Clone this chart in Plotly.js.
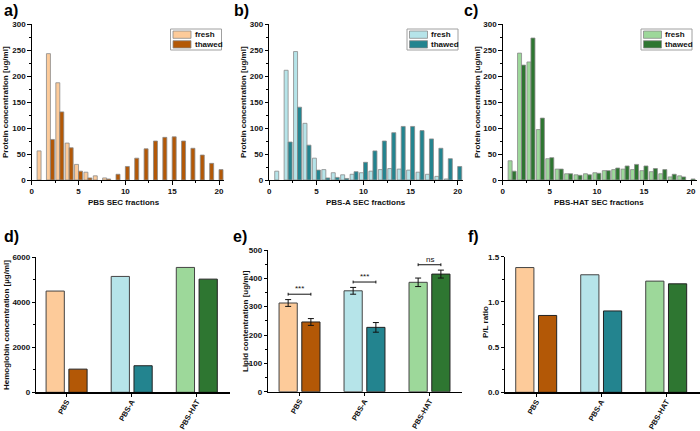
<!DOCTYPE html>
<html>
<head>
<meta charset="utf-8">
<script src="https://cdn.plot.ly/plotly-3.0.1.min.js"></script>
<style>
  html, body { margin: 0; padding: 0; background: #fff; }
  #chart { width: 700px; height: 431px; }
</style>
</head>
<body>
<div id="chart"></div>
<script>
// SEC fraction numbers
const fractions = [1, 2, 3, 4, 5, 6, 7, 8, 9, 10, 11, 12, 13, 14, 15, 16, 17, 18, 19, 20];

// Protein concentration per fraction [ug/ml]
const pbsFresh    = [56, 243, 187, 71, 30, 15, 8, 4, null, null, null, null, null, null, null, null, null, null, null, null];
const pbsThawed   = [null, 78, 131, 62, 17, 4, null, 2, 11, 26, 42, 60, 75, 82, 83, 75, 61, 48, 32, 20];
const pbsaFresh   = [17, 211, 247, 109, 42, 20, 14, 10, 11, 14, 17, 20, 22, 21, 19, 15, 11, 7, 2, null];
const pbsaThawed  = [null, 73, 140, 67, 19, 4, 5, 3, 16, 34, 56, 75, 91, 103, 103, 95, 79, 61, 41, 26];
const hatFresh    = [37, 244, 227, 97, 41, 21, 12, 10, 12, 14, 18, 20, 21, 20, 18, 16, 12, 6, 8, null];
const hatThawed   = [17, 221, 273, 119, 43, 21, 12, 9, 10, 13, 18, 23, 27, 30, 27, 22, 20, 11, 6, 2];

// Buffer groups for the summary panels
const groups = ['PBS', 'PBS-A', 'PBS-HAT'];
const hbFresh = [4500, 5150, 5550];
const hbThawed = [1030, 1180, 5030];
const lipidFresh = [313, 356, 386];
const lipidFreshErr = [12, 12, 15];
const lipidThawed = [246, 227, 415];
const lipidThawedErr = [12, 17, 14];
const plFresh = [1.38, 1.30, 1.23];
const plThawed = [0.85, 0.90, 1.20];
const sigLabels = ['***', '***', 'ns'];
const seriesNames = ['fresh', 'thawed'];

// Colours per buffer: [fresh, thawed]
const palette = {
  'PBS':     ['#FDCB9A', '#B35806'],
  'PBS-A':   ['#B6E4E9', '#23848F'],
  'PBS-HAT': ['#9DD89A', '#2E7631']
};
const freshColors = groups.map(g => palette[g][0]);
const thawedColors = groups.map(g => palette[g][1]);

const FONT = 'Arial, "Liberation Sans", sans-serif';
const tickFont = { family: FONT, size: 8, color: '#111', weight: 'bold' };
const catFont = { family: FONT, size: 7.5, color: '#111', weight: 'bold' };
const titleFont = { family: FONT, size: 8, color: '#111', weight: 'bold' };

const W = 700, H = 431;
const px = v => v / W;          // pixel -> paper x
const py = v => 1 - v / H;      // pixel -> paper y

const traces = [];

// ---- Top row: SEC fraction profiles ----
const secPanels = [
  { fresh: pbsFresh, thawed: pbsThawed, colors: palette['PBS'], xa: 'x', ya: 'y' },
  { fresh: pbsaFresh, thawed: pbsaThawed, colors: palette['PBS-A'], xa: 'x2', ya: 'y2' },
  { fresh: hatFresh, thawed: hatThawed, colors: palette['PBS-HAT'], xa: 'x3', ya: 'y3' }
];
secPanels.forEach(p => {
  traces.push({
    type: 'bar', name: seriesNames[0], x: fractions, y: p.fresh,
    xaxis: p.xa, yaxis: p.ya, offsetgroup: 'fresh',
    marker: { color: p.colors[0], line: { color: '#8a8a8a', width: 0.8 } }
  });
  traces.push({
    type: 'bar', name: seriesNames[1], x: fractions, y: p.thawed,
    xaxis: p.xa, yaxis: p.ya, offsetgroup: 'thawed',
    marker: { color: p.colors[1], line: { color: '#8a8a8a', width: 0.8 } }
  });
});

// ---- Bottom row: summary bars ----
const barW = 0.28;
function pair(fresh, thawed, xa, ya, errF, errT) {
  const f = {
    type: 'bar', name: seriesNames[0], x: groups, y: fresh, xaxis: xa, yaxis: ya,
    width: barW, offset: -barW - 0.035,
    marker: { color: freshColors, line: { color: '#444', width: 1 } }
  };
  const t = {
    type: 'bar', name: seriesNames[1], x: groups, y: thawed, xaxis: xa, yaxis: ya,
    width: barW, offset: 0.035,
    marker: { color: thawedColors, line: { color: '#222', width: 1 } }
  };
  if (errF) {
    f.error_y = { type: 'data', array: errF, color: '#111', thickness: 1, width: 3 };
    t.error_y = { type: 'data', array: errT, color: '#111', thickness: 1, width: 3 };
  }
  traces.push(f, t);
}
pair(hbFresh, hbThawed, 'x4', 'y4');
pair(lipidFresh, lipidThawed, 'x5', 'y5', lipidFreshErr, lipidThawedErr);
pair(plFresh, plThawed, 'x6', 'y6');

// ---- Axes ----
function secX(domain, range, anchor) {
  return {
    domain: domain, range: range, anchor: anchor,
    showgrid: false, zeroline: false, showline: true, linecolor: '#000', linewidth: 1,
    ticks: 'outside', ticklen: 3.5, tickwidth: 1, tickcolor: '#000', dtick: 5, tick0: 0,
    minor: { ticks: 'outside', ticklen: 2, dtick: 2.5, tickcolor: '#000', tickwidth: 1 },
    tickfont: tickFont
  };
}
function secY(domain, anchor) {
  return {
    domain: domain, range: [0, 300], anchor: anchor,
    showgrid: false, zeroline: false, showline: true, linecolor: '#000', linewidth: 1,
    ticks: 'outside', ticklen: 3.5, tickwidth: 1, tickcolor: '#000', dtick: 50,
    minor: { ticks: 'outside', ticklen: 2, dtick: 25, tickcolor: '#000', tickwidth: 1 },
    tickfont: tickFont
  };
}
function sumX(domain, range, anchor) {
  return {
    domain: domain, range: range, type: 'category', anchor: anchor,
    showgrid: false, zeroline: false, showline: true, linecolor: '#000', linewidth: 1.2,
    ticks: 'outside', ticklen: 3, tickwidth: 1, tickcolor: '#000',
    tickangle: -60, tickfont: catFont, ticklabelstandoff: -2
  };
}
function sumY(domain, range, dtick, minorDtick, fmt, anchor) {
  return {
    domain: domain, range: range, anchor: anchor,
    showgrid: false, zeroline: false, showline: true, linecolor: '#000', linewidth: 1.2,
    ticks: 'outside', ticklen: 3, tickwidth: 1, tickcolor: '#000', dtick: dtick, tick0: 0,
    tickformat: fmt,
    minor: { ticks: 'outside', ticklen: 1.5, dtick: minorDtick, tickcolor: '#000', tickwidth: 1 },
    tickfont: tickFont
  };
}

const topY = [py(180), py(24)];

const layout = {
  width: W, height: H,
  margin: { l: 0, r: 0, t: 0, b: 0 },
  paper_bgcolor: '#fff', plot_bgcolor: 'rgba(0,0,0,0)',
  font: { family: FONT, color: '#111' },
  barmode: 'group', bargap: 0.15, bargroupgap: 0,
  showlegend: false,

  xaxis:  secX([px(31.7), px(224)], [0, 20.53], 'y'),
  yaxis:  secY(topY, 'x'),
  xaxis2: secX([px(269.3), px(463)], [0, 20.56], 'y2'),
  yaxis2: secY(topY, 'x2'),
  xaxis3: secX([px(502.7), px(697)], [0, 20.63], 'y3'),
  yaxis3: secY(topY, 'x3'),

  xaxis4: sumX([px(36), px(230)], [-0.47, 2.51], 'y4'),
  yaxis4: sumY([py(392.3), py(257.3)], [0, 6000], 2000, 1000, 'd', 'x4'),
  xaxis5: sumX([px(268), px(462)], [-0.485, 2.5], 'y5'),
  yaxis5: sumY([py(391.7), py(250)], [0, 500], 100, 50, 'd', 'x5'),
  xaxis6: sumX([px(505), 1], [-0.48, 2.52], 'y6'),
  yaxis6: sumY([py(392.3), py(256.7)], [0, 1.5], 0.5, 0.25, '.1f', 'x6'),

  annotations: [],
  shapes: []
};

// Axis titles
function axisTitle(text, x, y, vertical) {
  layout.annotations.push({
    text: text, xref: 'paper', yref: 'paper', x: px(x), y: py(y),
    xanchor: 'center', yanchor: 'middle', showarrow: false,
    textangle: vertical ? -90 : 0, font: titleFont
  });
}
axisTitle('Protein concentration [ug/ml]', 6, 102, true);
axisTitle('Protein concentration [ug/ml]', 244, 102, true);
axisTitle('Protein concentration [ug/ml]', 478, 102, true);
axisTitle('PBS SEC fractions', 124, 202, false);
axisTitle('PBS-A SEC fractions', 366, 202, false);
axisTitle('PBS-HAT SEC fractions', 599, 202, false);
axisTitle('Hemoglobin concentration [µg/ml]', 6, 325, true);
axisTitle('Lipid contentration [ug/ml]', 245, 321, true);
axisTitle('P/L ratio', 485, 322, true);

// Boxed legends for the three fraction panels
function legendBox(left, colors) {
  const top = 29, w = 51, h = 21;
  layout.shapes.push({
    type: 'rect', xref: 'paper', yref: 'paper',
    x0: px(left), x1: px(left + w), y0: py(top + h), y1: py(top),
    line: { color: '#a0a0a0', width: 1 }, fillcolor: '#fff'
  });
  seriesNames.forEach((name, i) => {
    const sy = top + 2 + i * 9.7;
    layout.shapes.push({
      type: 'rect', xref: 'paper', yref: 'paper',
      x0: px(left + 2.5), x1: px(left + 20.5), y0: py(sy + 7.3), y1: py(sy),
      line: { color: '#8a8a8a', width: 0.8 }, fillcolor: colors[i]
    });
    layout.annotations.push({
      text: name, xref: 'paper', yref: 'paper',
      x: px(left + 22), y: py(sy + 3.7), xanchor: 'left', yanchor: 'middle',
      showarrow: false, font: { family: FONT, size: 8, color: '#111', weight: 'bold' }
    });
  });
}
legendBox(170.5, palette['PBS']);
legendBox(407, palette['PBS-A']);
legendBox(641, palette['PBS-HAT']);

// Panel letters
[['a)', 2, 11], ['b)', 232, 11], ['c)', 462, 11], ['d)', 2, 236], ['e)', 231, 236], ['f)', 466, 236]]
  .forEach(([t, x, y]) => {
    layout.annotations.push({
      text: t, xref: 'paper', yref: 'paper', x: px(x), y: py(y),
      xanchor: 'left', yanchor: 'middle', showarrow: false,
      font: { family: FONT, size: 16, color: '#000', weight: 'bold' }
    });
  });

// Significance brackets over the lipid bars
const centre = barW / 2 + 0.035;
groups.forEach((g, i) => {
  const top = Math.max(lipidFresh[i] + lipidFreshErr[i], lipidThawed[i] + lipidThawedErr[i]);
  const yb = top + 19;
  const x0 = i - centre, x1 = i + centre;
  const ln = { color: '#111', width: 1 };
  layout.shapes.push(
    { type: 'line', xref: 'x5', yref: 'y5', x0: x0, x1: x1, y0: yb, y1: yb, line: ln },
    { type: 'line', xref: 'x5', yref: 'y5', x0: x0, x1: x0, y0: yb - 5, y1: yb + 5, line: ln },
    { type: 'line', xref: 'x5', yref: 'y5', x0: x1, x1: x1, y0: yb - 5, y1: yb + 5, line: ln }
  );
  layout.annotations.push({
    text: sigLabels[i], xref: 'x5', yref: 'y5', x: i, y: yb,
    yanchor: 'bottom', showarrow: false, yshift: -1,
    font: { family: FONT, size: 8, color: '#111' }
  });
});

Plotly.newPlot('chart', traces, layout, { staticPlot: true, displayModeBar: false });
</script>
</body>
</html>
